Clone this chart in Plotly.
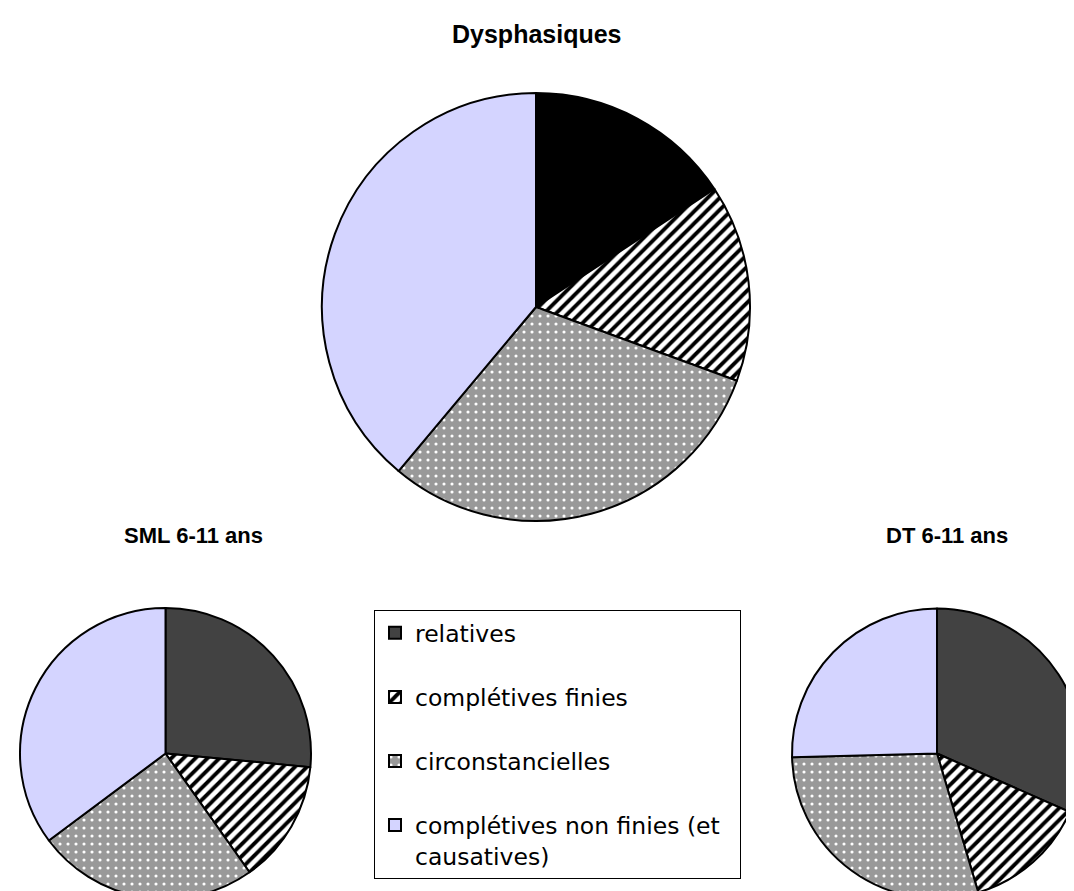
import plotly.graph_objects as go

# ---- data ----
categories = ["relatives", "complétives finies", "circonstancielles",
              "complétives non finies (et causatives)"]
dysphasiques = [15.7, 14.9, 30.5, 38.9]
sml_6_11 = [26.5, 13.7, 24.6, 35.2]
dt_6_11 = [31.6, 13.8, 29.2, 25.4]
titles = ["Dysphasiques", "SML 6-11 ans", "DT 6-11 ans"]

# ---- styles ----
W, H = 1074, 891
LAV = "#D4D4FF"
GREY = "#999999"
NB = "\u00a0"


def legend_label(name):
    # wrap the long label, pad short ones to add vertical spacing in the legend
    if "(et " in name:
        a, b = name.split("(et ")
        return a + "(et" + NB * 2 + "<br>" + b
    return name + "<br>" + NB


labels = [legend_label(c) for c in categories]


def pie(values, first_color, domain, showlegend):
    return go.Pie(
        labels=labels,
        values=values,
        sort=False,
        direction="clockwise",
        rotation=0,
        textinfo="none",
        hoverinfo="label+percent",
        showlegend=showlegend,
        domain=domain,
        marker=dict(
            colors=[first_color, "white", GREY, LAV],
            line=dict(color="black", width=2),
            pattern=dict(
                shape=["", "/", ".", ""],
                fgcolor=["black", "black", "white", "black"],
                bgcolor=[first_color, "white", GREY, LAV],
                size=[8, 8.5, 8, 8],
                solidity=[0.3, 0.45, 0.12, 0.3],
            ),
        ),
    )


def dom_px(cx, cy, r):
    x0 = max(0.0, (cx - r) / W)
    x1 = min(1.0, (cx + r) / W)
    y0 = max(0.0, (H - cy - r) / H)
    y1 = min(1.0, (H - cy + r) / H)
    return dict(x=[x0, x1], y=[y0, y1])


fig = go.Figure()
fig.add_trace(pie(sml_6_11, "#424242", dom_px(157.5, 746, 146), True))
fig.add_trace(pie(dt_6_11, "#424242", dom_px(930, 746, 146), False))
fig.add_trace(pie(dysphasiques, "#000000", dom_px(528, 299, 214), False))

title_pos = [(529, 26, 25), (185, 527, 22), (939, 527, 22)]
for t, (x, y, s) in zip(titles, title_pos):
    fig.add_annotation(
        text="<b>" + t + "</b>", x=x / W, y=(H - y) / H,
        xref="paper", yref="paper", xanchor="center", yanchor="middle",
        showarrow=False,
        font=dict(family="Arial, Liberation Sans", size=s, color="black"),
    )

fig.update_layout(
    width=W, height=H,
    margin=dict(l=0, r=0, t=0, b=0),
    paper_bgcolor="white", plot_bgcolor="white",
    legend=dict(
        x=366 / W, y=(H - 602) / H, xanchor="left", yanchor="top",
        bgcolor="white", bordercolor="black", borderwidth=1,
        valign="top",
        font=dict(family="DejaVu Sans", size=23.5, color="black"),
        traceorder="normal",
    ),
)

fig.write_html("out.html")
